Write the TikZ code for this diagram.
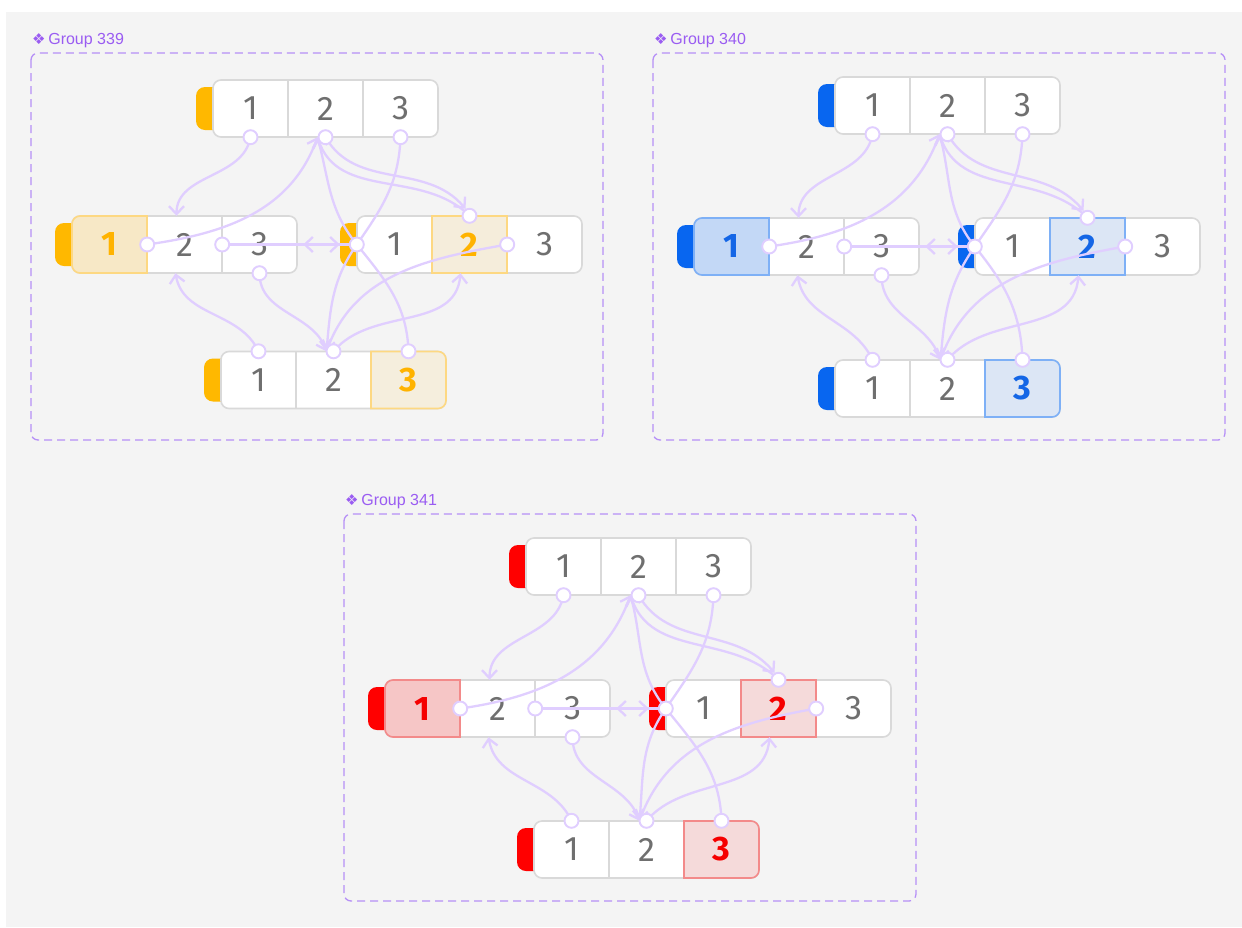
\documentclass[tikz,border=0pt]{standalone}
\usepackage{fontspec}
\setmainfont{Liberation Sans}
\newfontfamily\digitfont{Fira Sans}
\newfontfamily\symfont{DejaVu Sans}
\usetikzlibrary{arrows.meta}

\definecolor{bggray}{HTML}{F4F4F4}
\definecolor{framepurple}{HTML}{B690F7}
\definecolor{labelpurple}{HTML}{9A5CF2}
\definecolor{cellline}{HTML}{D9D9D9}
\definecolor{digitgray}{HTML}{6F6F6F}
\definecolor{linkpurple}{HTML}{E0CEFF}
% orange set
\definecolor{tabO}{HTML}{FFB800}
\definecolor{hiO1}{HTML}{F7E8C6}
\definecolor{hiO2}{HTML}{F5EDDB}
\definecolor{hiO3}{HTML}{F5EEDD}
\definecolor{edgeO}{HTML}{FDD882}
\definecolor{numO}{HTML}{FFB300}
% blue set
\definecolor{tabB}{HTML}{0866F0}
\definecolor{hiB1}{HTML}{C3D8F6}
\definecolor{hiB2}{HTML}{DCE6F5}
\definecolor{hiB3}{HTML}{DCE6F5}
\definecolor{edgeB}{HTML}{7EB0F6}
\definecolor{numB}{HTML}{1466E6}
% red set
\definecolor{tabR}{HTML}{FF0000}
\definecolor{hiR1}{HTML}{F6C6C6}
\definecolor{hiR2}{HTML}{F5DADA}
\definecolor{hiR3}{HTML}{F5DADA}
\definecolor{edgeR}{HTML}{F38A8A}
\definecolor{numR}{HTML}{F50000}

% #1 name, #2 left x, #3 centre y (downwards), #4 marked cell (0 = none), #5 colour set
\newcommand{\sharebar}[5]{%
  \fill[tab#5, rounded corners=9pt] (#2-17,-#3-21.5) rectangle (#2+12,-#3+21.5);
  \filldraw[fill=white, draw=cellline, line width=1.6pt, rounded corners=8pt]
    (#2,-#3-28.5) rectangle (#2+225,-#3+28.5);
  \draw[cellline, line width=1.6pt] (#2+75,-#3-28.5) -- (#2+75,-#3+28.5)
    (#2+150,-#3-28.5) -- (#2+150,-#3+28.5);
  \ifcase#4\relax
  \or \filldraw[fill=hi#51, draw=edge#5, line width=1.6pt] (#2+75,-#3+28.5) -- (#2+8,-#3+28.5)
        arc[start angle=90,end angle=180,radius=8pt] -- (#2,-#3-20.5)
        arc[start angle=180,end angle=270,radius=8pt] -- (#2+75,-#3-28.5) -- cycle;
  \or \filldraw[fill=hi#52, draw=edge#5, line width=1.6pt] (#2+75,-#3-28.5) rectangle (#2+150,-#3+28.5);
  \or \filldraw[fill=hi#53, draw=edge#5, line width=1.6pt] (#2+150,-#3+28.5) -- (#2+217,-#3+28.5)
        arc[start angle=90,end angle=0,radius=8pt] -- (#2+225,-#3-20.5)
        arc[start angle=0,end angle=-90,radius=8pt] -- (#2+150,-#3-28.5) -- cycle;
  \fi
  \foreach \c in {1,2,3}{
    \ifnum\c=#4
      \node[cell, text=num#5, font=\digitfont\bfseries\fontsize{34}{34}\selectfont] (#1-\c) at (#2+75*\c-37.5,-#3) {\c};
    \else
      \node[cell] (#1-\c) at (#2+75*\c-37.5,-#3) {\c};
    \fi
  }
}

\begin{document}
\begin{tikzpicture}[
  x=1pt, y=1pt,
  cell/.style={minimum width=75pt, minimum height=57pt, inner sep=0pt,
               text=digitgray, font=\digitfont\fontsize{34}{34}\selectfont},
  groupframe/.style={draw=framepurple, line width=1.3pt, rounded corners=7pt,
                     dash pattern=on 8pt off 5pt},
  grouplabel/.style={text=labelpurple, inner sep=0pt, font=\fontsize{16}{16}\selectfont},
  link/.style={draw=linkpurple, line width=2.3pt},
  arr/.style={link, -{Straight Barb[length=8pt,width=15pt]}},
  port/.style={circle, draw=linkpurple, fill=white, line width=1.9pt,
               minimum size=14pt, inner sep=0pt}
]
\useasboundingbox (0,0) rectangle (1242,-927);
\fill[white] (0,0) rectangle (1242,-927);
\fill[bggray] (6,-12) rectangle (1242,-927);

\foreach \g/\gx/\gy/\ty/\my/\by/\mx/\bx/\gc/\gname in {
    A/31/53/108.5/244.5/380/357/221/O/339,
    B/653/53/105.5/246.5/388.5/975/835/B/340,
    C/344/514/566.5/708.5/849.5/666/534/R/341}{
  % frame and title
  \draw[groupframe] (\gx,-\gy) rectangle (\gx+572,-\gy-387);
  \node[grouplabel, anchor=west] (\g-label) at (\gx+1,-\gy+12)
    {{\symfont\fontsize{15}{15}\selectfont ❖}\,Group \gname};
  % the four rows
  \sharebar{\g-t}{\gx+182}{\ty}{0}{\gc}
  \sharebar{\g-l}{\gx+41}{\my}{1}{\gc}
  \sharebar{\g-r}{\mx}{\my}{2}{\gc}
  \sharebar{\g-b}{\bx}{\by}{3}{\gc}
  % connectors
  \draw[arr] (\g-t-1.south) to[out=-100,in=90] ([xshift=-8pt]\g-l-2.north);
  \draw[arr] (\g-l-1.east) to[out=8,in=-110] ([xshift=-8pt]\g-t-2.south);
  \draw[arr] (\g-t-2.south) to[out=-60,in=130] ([xshift=-4pt,yshift=7pt]\g-r-2.north);
  \draw[arr] (\g-r-2.north) to[out=135,in=-72] ([xshift=-8pt]\g-t-2.south);
  \draw[arr] (\g-t-3.south) to[out=-92,in=55] (\g-r-1.west)
    to[out=235,in=85] ([xshift=-7pt]\g-b-2.north);
  \draw[arr] (\g-b-3.north) to[out=92,in=-51] (\g-r-1.west)
    to[out=129,in=-75] ([xshift=-8pt]\g-t-2.south);
  \draw[arr] (\g-l-2.east) -- ([xshift=-17pt]\g-r-1.west);
  \draw[arr] (\g-r-1.west) -- ([xshift=6pt]\g-l-3.east);
  \draw[arr] (\g-l-3.south) to[out=-90,in=110] ([xshift=-7pt]\g-b-2.north);
  \draw[arr] (\g-b-1.north) to[out=115,in=-80] ([xshift=-9pt]\g-l-2.south);
  \draw[arr] (\g-b-2.north) to[out=50,in=-95] ([xshift=-9pt]\g-r-2.south);
  \draw[arr] (\g-r-2.east) to[out=190,in=70] ([xshift=-7pt]\g-b-2.north);
  % ports
  \foreach \p/\a in {t-1/south, t-2/south, t-3/south, l-1/east, l-2/east, l-3/south,
                     r-1/west, r-2/north, r-2/east, b-1/north, b-2/north, b-3/north}
    \node[port] (\g-\p-\a) at (\g-\p.\a) {};
}
\end{tikzpicture}
\end{document}
